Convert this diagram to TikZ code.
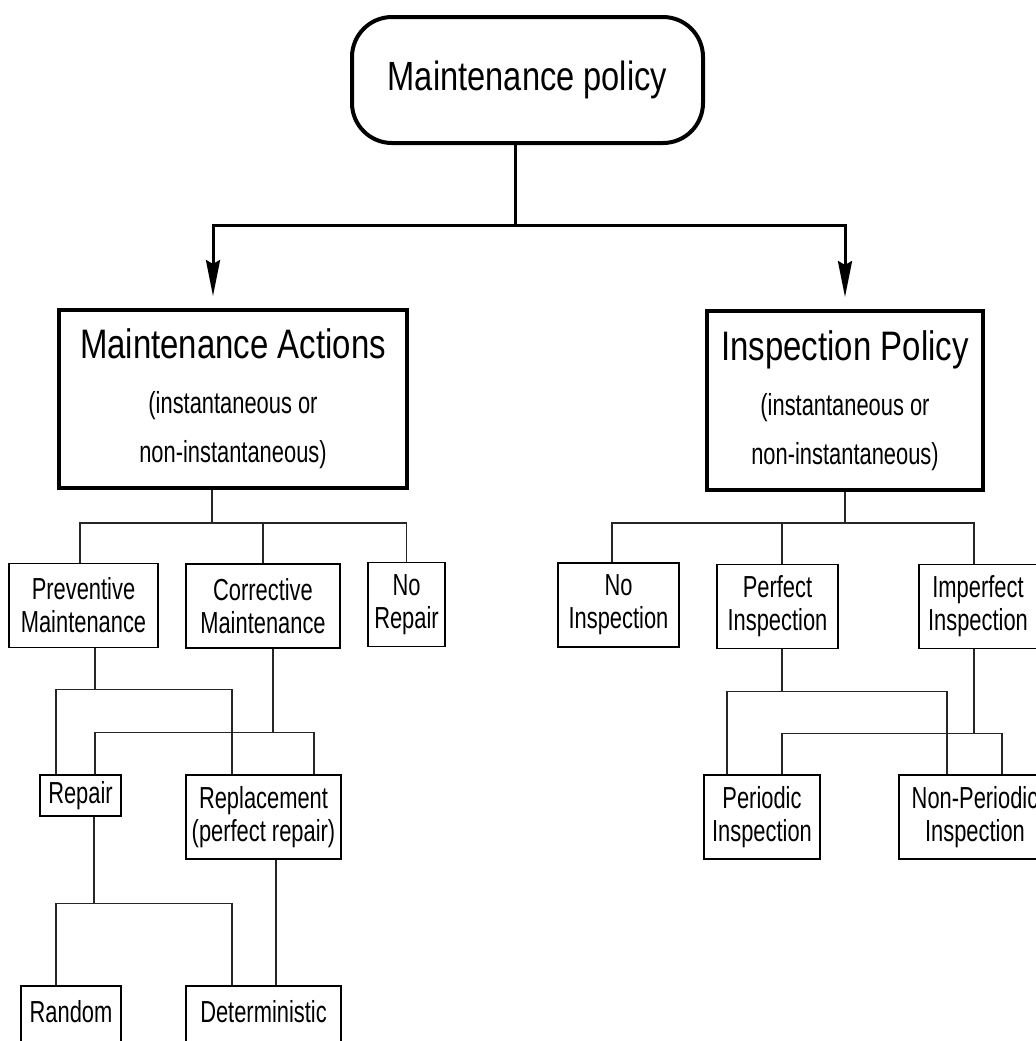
\documentclass[tikz,border=0pt]{standalone}
\usepackage{fontspec}
\setmainfont{Liberation Sans}[FakeStretch=0.72]
\newfontfamily\titlefont{Liberation Sans}[FakeStretch=0.8]
\usetikzlibrary{arrows.meta}
\tikzstyle{rootbox}=[draw,line width=2pt,rounded corners=20pt,minimum width=175.5pt,minimum height=63pt,font=\titlefont\fontsize{20.4pt}{24pt}\selectfont]
\tikzstyle{groupbox}=[draw,line width=2pt,inner sep=0pt,align=center,font=\fontsize{15.2pt}{24.5pt}\selectfont]
\tikzstyle{leafbox}=[draw,line width=0.8pt,inner sep=0pt,align=center,minimum height=42pt,font=\fontsize{15.2pt}{16.5pt}\selectfont]
\tikzstyle{trunk}=[draw,line width=1.5pt]
\tikzstyle{branch}=[trunk,-{Stealth[length=18pt,width=7pt,inset=2pt]},shorten >=6pt]
\tikzstyle{link}=[draw,line width=0.6pt,black!85]
\newcommand{\bigtitle}[1]{{\titlefont\fontsize{20.6pt}{24pt}\selectfont #1}}

\begin{document}
\begin{tikzpicture}[x=0.5pt,y=-0.5pt]
    \useasboundingbox (0,0) rectangle (1036,1041);
    \clip (0,0) rectangle (1036,1041);

    % The root and the two main branches
    \node[rootbox] (policy) at (527.5,80) {Maintenance policy};
    \node[groupbox,minimum width=174pt,minimum height=89pt] (actions) at (233,399)
        {\bigtitle{Maintenance Actions}\\[3pt](instantaneous or\\non-instantaneous)};
    \node[groupbox,minimum width=138pt,minimum height=89.5pt] (inspection) at (845,400.5)
        {\bigtitle{Inspection Policy}\\[3pt](instantaneous or\\non-instantaneous)};

    % Then the boxes below them
    \foreach \pos/\name/\boxw/\txt in {{(83.5,605.5)/prev/149/{Preventive\\Maintenance}},
        {(263,606)/corr/154/{Corrective\\Maintenance}}, {(406.5,604.5)/norep/77/{No\\Repair}},
        {(263.5,817)/replace/155/{Replacement\\(perfect repair)}},
        {(618.5,605)/noinsp/121/{No\\Inspection}}, {(777.5,606.5)/perf/121/{Perfect\\Inspection}},
        {(978,606.5)/imperf/118/{Imperfect\\Inspection}},
        {(762,817)/periodic/116/{Periodic\\Inspection}}, {(975,817)/nonper/152/{Non-Periodic\\Inspection}}}
        \node[leafbox,minimum width=\boxw*0.5pt] (\name) at \pos {\txt};
    \node[leafbox,minimum width=40.5pt,minimum height=20.5pt] (repair) at (80.5,795.5) {Repair};
    \node[leafbox,anchor=north,minimum width=50pt,text height=10.9pt,text depth=16.5pt] (random) at (71,985) {Random};
    \node[leafbox,anchor=north,minimum width=77.5pt,text height=10.9pt,text depth=16.5pt] (determ) at (263.5,985) {Deterministic};

    % Arrows from the root
    \draw[trunk] ([xshift=-6.25pt]policy.south) -- ++(0,80) coordinate (fork);
    \draw[branch] (fork) -| ([xshift=-10pt]actions.north);
    \draw[branch] (fork) -| (inspection.north);

    % Maintenance actions side
    \draw[link] ([xshift=-10.5pt]actions.south) -- ++(0,33) coordinate (ma);
    \draw[link] ([xshift=-1.75pt]prev.north) |- (norep.north |- ma) -- (norep.north);
    \draw[link] (corr.north) -- (corr.north |- ma);

    \coordinate (rleft) at ([xshift=-15.75pt]replace.north);
    \coordinate (dleft) at ([xshift=-15.75pt]determ.north);
    \draw[link] ([xshift=5.75pt]prev.south) -- ++(0,41) coordinate (pm);
    \draw[link] ([xshift=-12.25pt]repair.north) |- (rleft |- pm) -- (rleft);
    \draw[link] ([xshift=5pt]corr.south) -- ++(0,84) coordinate (cm);
    \draw[link] ([xshift=7.25pt]repair.north) |- ([xshift=25.25pt]replace.north |- cm) -- ([xshift=25.25pt]replace.north);
    \draw[link] ([xshift=6.75pt]repair.south) -- ++(0,87) coordinate (rm);
    \draw[link] ([xshift=-7.5pt]random.north) |- (dleft |- rm) -- (dleft);
    \draw[link] ([xshift=6.25pt]replace.south) -- ([xshift=6.25pt]replace.south |- determ.north);

    % Inspection side
    \draw[link] (inspection.south) -- ++(0,31) coordinate (im);
    \draw[link] ([xshift=-3.25pt]noinsp.north) |- ([xshift=-2pt]imperf.north |- im) -- ([xshift=-2pt]imperf.north);
    \draw[link] ([xshift=2.25pt]perf.north) -- ([xshift=2.25pt]perf.north |- im);

    \draw[link] ([xshift=2.25pt]perf.south) -- ++(0,42) coordinate (pf);
    \draw[link] ([xshift=-17.5pt]periodic.north) |- ([xshift=-14pt]nonper.north |- pf) -- ([xshift=-14pt]nonper.north);
    \draw[link] ([xshift=-2pt]imperf.south) -- ++(0,84) coordinate (ip);
    \draw[link] ([xshift=10pt]periodic.north) |- ([xshift=13.5pt]nonper.north |- ip) -- ([xshift=13.5pt]nonper.north);
\end{tikzpicture}
\end{document}
